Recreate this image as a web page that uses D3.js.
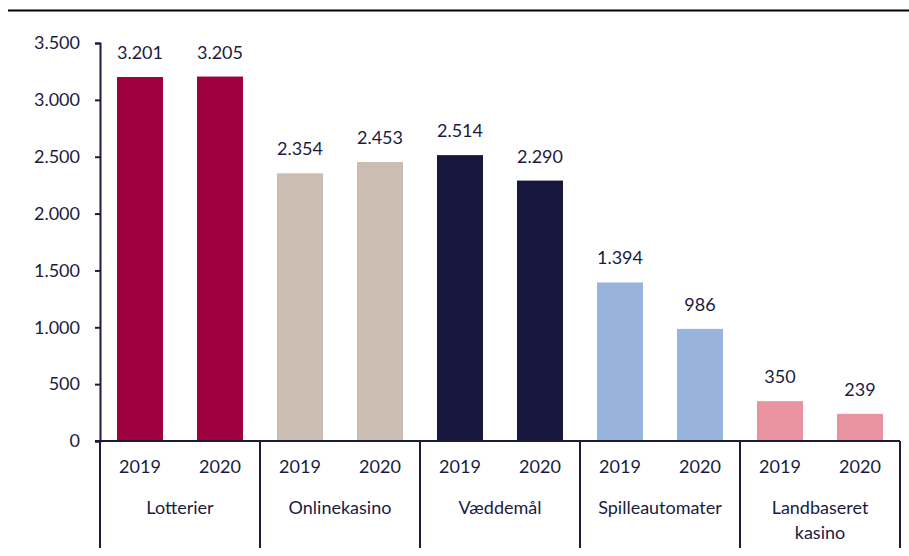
<!DOCTYPE html>
<html lang="da">
<head>
<meta charset="utf-8">
<title>Bruttospilleindtægt</title>
<script src="https://cdn.jsdelivr.net/npm/d3@7"></script>
<style>
  body { margin: 0; background: #fff; }
  text { font-family: Lato, "Open Sans", sans-serif; fill: #1b1b3f; }
</style>
</head>
<body>
<script>
// data
var categories = ["Lotterier", "Onlinekasino", "Væddemål", "Spilleautomater", "Landbaseret kasino"];
var years = ["2019", "2020"];
var values2019 = [3201, 2354, 2514, 1394, 350];
var values2020 = [3205, 2453, 2290, 986, 239];
var colors = ["#9e0040", "#cbbdb1", "#17173d", "#98b4dc", "#e8939f"];
var yTicks = [0, 500, 1000, 1500, 2000, 2500, 3000, 3500];

var W = 909, H = 556, ink = "#1b1b3f", fs = "18px";
var fmt = function (v) { return d3.format(",")(v).replace(/,/g, "."); };

var svg = d3.select("body").append("svg").attr("width", W).attr("height", H);

// top rule
svg.append("line").attr("x1", 8).attr("x2", W).attr("y1", 10.5).attr("y2", 10.5)
  .attr("stroke", "#000").attr("stroke-width", 2);

var x0 = d3.scaleBand().domain(categories).range([100, 900]);
var x1 = d3.scaleBand().domain(years).range([0, x0.bandwidth()]).paddingInner(0.425).paddingOuter(0.2125);
var y = d3.scaleLinear().domain([0, 3500]).range([441, 43]);

var rows = [];
categories.forEach(function (c, i) {
  rows.push({ cat: c, year: "2019", v: values2019[i], color: colors[i] });
  rows.push({ cat: c, year: "2020", v: values2020[i], color: colors[i] });
});

svg.selectAll("rect.bar").data(rows).enter().append("rect")
  .attr("class", "bar")
  .attr("x", function (d) { return x0(d.cat) + x1(d.year); })
  .attr("width", x1.bandwidth())
  .attr("y", function (d) { return y(d.v); })
  .attr("height", function (d) { return y(0) - y(d.v); })
  .attr("fill", function (d) { return d.color; });

svg.selectAll("text.val").data(rows).enter().append("text")
  .attr("class", "val")
  .attr("x", function (d) { return x0(d.cat) + x1(d.year) + x1.bandwidth() / 2; })
  .attr("y", function (d) { return y(d.v) - 18; })
  .attr("text-anchor", "middle")
  .style("font-size", fs)
  .text(function (d) { return fmt(d.v); });

// y axis
var yAxis = svg.append("g").attr("transform", "translate(100,0)")
  .call(d3.axisLeft(y).tickValues(yTicks).tickSize(5).tickPadding(15).tickFormat(fmt));
yAxis.select(".domain").attr("stroke", ink).attr("stroke-width", 2);
yAxis.selectAll(".tick line").attr("stroke", ink).attr("stroke-width", 2);
yAxis.selectAll("text").style("font-size", fs).attr("font-family", null).attr("fill", ink);

// baseline
svg.append("line").attr("x1", 95).attr("x2", 900).attr("y1", y(0)).attr("y2", y(0))
  .attr("stroke", ink).attr("stroke-width", 2);

// group separators
var seps = categories.map(function (c) { return x0(c); }).concat([x0.range()[1]]);
svg.selectAll("line.sep").data(seps).enter().append("line")
  .attr("x1", function (d) { return d; }).attr("x2", function (d) { return d; })
  .attr("y1", y(0)).attr("y2", 548)
  .attr("stroke", ink).attr("stroke-width", 2);

// year labels
svg.selectAll("text.yr").data(rows).enter().append("text")
  .attr("x", function (d) { return x0(d.cat) + x1(d.year) + x1.bandwidth() / 2; })
  .attr("y", 473)
  .attr("text-anchor", "middle")
  .style("font-size", fs)
  .text(function (d) { return d.year; });

// category labels
categories.forEach(function (c) {
  var words = c === "Landbaseret kasino" ? ["Landbaseret", "kasino"] : [c];
  var t = svg.append("text").attr("text-anchor", "middle").style("font-size", fs);
  words.forEach(function (w, i) {
    t.append("tspan").attr("x", x0(c) + x0.bandwidth() / 2).attr("y", 514 + i * 25).text(w);
  });
});
</script>
</body>
</html>
